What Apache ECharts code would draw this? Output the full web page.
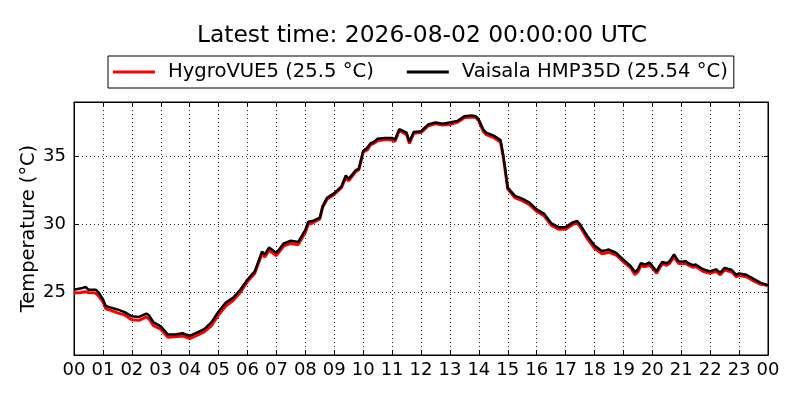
<!DOCTYPE html>
<html>
<head>
<meta charset="utf-8">
<script src="https://cdn.jsdelivr.net/npm/echarts@6/dist/echarts.min.js"></script>
<style>html,body{margin:0;padding:0;background:#fff}#c{width:800px;height:400px}</style>
</head>
<body>
<div id="c"></div>
<script>
var titleText = 'Latest time: 2026-08-02 00:00:00 UTC';
var seriesNames = ['HygroVUE5 (25.5 °C)', 'Vaisala HMP35D (25.54 °C)'];
var yTicks = [25, 30, 35];
var hours = [
  0, 0.25, 0.4, 0.5, 0.75, 0.85,
  1.0, 1.1, 1.25, 1.5, 1.75,
  2.0, 2.25, 2.5, 2.6, 2.75,
  3.0, 3.25, 3.5, 3.75,
  4.0, 4.25, 4.5, 4.75,
  5.0, 5.25, 5.5, 5.75,
  6.0, 6.25, 6.5, 6.6, 6.75,
  7.0, 7.25, 7.5, 7.75,
  8.0, 8.1, 8.25, 8.5, 8.6, 8.75,
  9.0, 9.25, 9.4, 9.5, 9.75, 9.85,
  10.0, 10.15, 10.25, 10.4, 10.5, 10.75,
  11.0, 11.1, 11.25, 11.5, 11.6, 11.75,
  12.0, 12.25, 12.5, 12.75,
  13.0, 13.25, 13.5, 13.75, 13.9,
  14.0, 14.15, 14.25, 14.5, 14.75, 14.85,
  15.0, 15.25, 15.5, 15.75,
  16.0, 16.25, 16.5, 16.75,
  17.0, 17.25, 17.4, 17.5, 17.75,
  18.0, 18.25, 18.4, 18.5, 18.75,
  19.0, 19.25, 19.4, 19.5, 19.6, 19.75, 19.9,
  20.0, 20.15, 20.25, 20.35, 20.5, 20.6, 20.75, 20.9,
  21.0, 21.15, 21.25, 21.4, 21.5, 21.75,
  22.0, 22.2, 22.35, 22.5, 22.75, 22.9,
  23.0, 23.25, 23.5, 23.75,
  24.0
];
var vaisala = [
  25.2, 25.3, 25.4, 25.2, 25.2, 25.0,
  24.5, 24.0, 23.9, 23.75, 23.55,
  23.25, 23.2, 23.45, 23.3, 22.8,
  22.5, 21.9, 21.9, 22.0,
  21.8, 22.05, 22.3, 22.8,
  23.6, 24.25, 24.6, 25.2,
  25.95, 26.55, 28.0, 27.8, 28.3,
  27.9, 28.6, 28.8, 28.7,
  29.6, 30.2, 30.25, 30.5, 31.35, 31.95,
  32.3, 32.8, 33.6, 33.35, 34.0, 34.1,
  35.4, 35.65, 35.95, 36.1, 36.3, 36.35,
  36.35, 36.25, 37.0, 36.75, 36.1, 36.8,
  36.85, 37.35, 37.5, 37.4,
  37.5, 37.6, 37.95, 38.0, 37.95,
  37.7, 37.0, 36.75, 36.55, 36.2, 35.0,
  32.7, 32.1, 31.9, 31.6,
  31.1, 30.8, 30.1, 29.8,
  29.8, 30.15, 30.25, 30.0, 29.15,
  28.45, 28.05, 28.1, 28.15, 27.9,
  27.4, 26.95, 26.5, 26.7, 27.15, 27.05, 27.2,
  26.95, 26.55, 26.95, 27.25, 27.15, 27.3, 27.8, 27.3,
  27.25, 27.3, 27.15, 27.0, 27.05, 26.7,
  26.55, 26.7, 26.45, 26.8, 26.65, 26.3,
  26.4, 26.3, 26.0, 25.7,
  25.54
];
var hygrovue = [
  24.95, 25.0, 25.05, 25.0, 24.95, 24.75,
  24.3, 23.8, 23.7, 23.5, 23.35,
  23.0, 22.95, 23.2, 23.05, 22.55,
  22.3, 21.7, 21.75, 21.8,
  21.6, 21.85, 22.1, 22.55,
  23.35, 24.0, 24.4, 25.0,
  25.8, 26.4, 27.85, 27.6, 28.1,
  27.7, 28.4, 28.6, 28.5,
  29.4, 30.0, 30.1, 30.4, 31.25, 31.85,
  32.2, 32.7, 33.45, 33.2, 33.9, 34.0,
  35.3, 35.5, 35.85, 36.0, 36.15, 36.25,
  36.2, 36.1, 36.9, 36.6, 35.95, 36.7,
  36.75, 37.25, 37.4, 37.3,
  37.35, 37.5, 37.85, 37.9, 37.85,
  37.6, 36.85, 36.6, 36.4, 36.05, 34.9,
  32.6, 31.95, 31.75, 31.45,
  30.95, 30.65, 29.95, 29.65,
  29.65, 30.0, 30.1, 29.85, 28.95,
  28.25, 27.85, 27.9, 27.95, 27.75,
  27.25, 26.8, 26.3, 26.5, 26.95, 26.9, 27.0,
  26.8, 26.4, 26.8, 27.1, 27.0, 27.15, 27.6, 27.15,
  27.1, 27.15, 27.0, 26.85, 26.9, 26.55,
  26.4, 26.55, 26.3, 26.65, 26.5, 26.15,
  26.25, 26.15, 25.85, 25.6,
  25.5
];

function pairs(vals) {
  return hours.map(function (h, i) { return [h, vals[i]]; });
}
var font = 'DejaVu Sans';
var chart = echarts.init(document.getElementById('c'), null, {renderer: 'canvas'});
var gridLine = {show: true, lineStyle: {color: '#222', width: 1, type: [1, 3]}};
var axisLineStyle = {show: true, onZero: false, lineStyle: {color: '#000', width: 1}};
chart.setOption({
  animation: false,
  backgroundColor: '#fff',
  title: {
    text: titleText, left: 417, top: 19, textAlign: 'center',
    textStyle: {fontFamily: font, fontSize: 23.4, fontWeight: 'normal', color: '#000'}
  },
  legend: {
    left: 108, top: 56,
    padding: [5, 6, 5, 5],
    borderColor: '#000', borderWidth: 1,
    itemWidth: 42, itemHeight: 3, itemGap: 33,
    icon: 'rect',
    textStyle: {fontFamily: font, fontSize: 19.6, color: '#000', padding: [0, 0, 0, 8], lineHeight: 22}
  },
  grid: {left: 74, right: 32, top: 102, bottom: 45, show: true, borderColor: '#000', borderWidth: 1, backgroundColor: 'transparent'},
  xAxis: [{
    type: 'value', min: 0, max: 24, interval: 1,
    axisLine: axisLineStyle,
    axisTick: {show: true, inside: true, length: 4, lineStyle: {color: '#000'}},
    splitLine: gridLine,
    axisLabel: {
      fontFamily: font, fontSize: 18, color: '#000', margin: 6,
      showMinLabel: true, showMaxLabel: true,
      formatter: function (v) { var h = Math.round(v) % 24; return (h < 10 ? '0' : '') + h; }
    }
  }, {
    type: 'value', min: 0, max: 24, interval: 1, position: 'top',
    axisLine: axisLineStyle,
    axisTick: {show: true, inside: true, length: 4, lineStyle: {color: '#000'}},
    splitLine: {show: false}, axisLabel: {show: false}
  }],
  yAxis: [{
    type: 'value', min: 20.4, max: 39.0,
    name: 'Temperature (°C)', nameLocation: 'middle', nameGap: 36, nameRotate: 90,
    nameMoveOverlap: false,
    nameTextStyle: {fontFamily: font, fontSize: 19.4, color: '#000'},
    axisLine: axisLineStyle,
    axisTick: {show: true, inside: true, length: 4, customValues: yTicks, lineStyle: {color: '#000'}},
    splitLine: gridLine,
    axisLabel: {fontFamily: font, fontSize: 18, color: '#000', margin: 8, customValues: yTicks}
  }, {
    type: 'value', min: 20.4, max: 39.0, position: 'right',
    axisLine: axisLineStyle,
    axisTick: {show: true, inside: true, length: 4, customValues: yTicks, lineStyle: {color: '#000'}},
    splitLine: {show: false}, axisLabel: {show: false, customValues: yTicks}
  }],
  series: [{
    name: seriesNames[0], type: 'line', data: pairs(hygrovue),
    showSymbol: false, symbol: 'none', color: '#ff0000',
    lineStyle: {color: '#ff0000', width: 3}, z: 2
  }, {
    name: seriesNames[1], type: 'line', data: pairs(vaisala),
    showSymbol: false, symbol: 'none', color: '#000000',
    lineStyle: {color: '#000000', width: 2.5}, z: 3
  }]
});
</script>
</body>
</html>
